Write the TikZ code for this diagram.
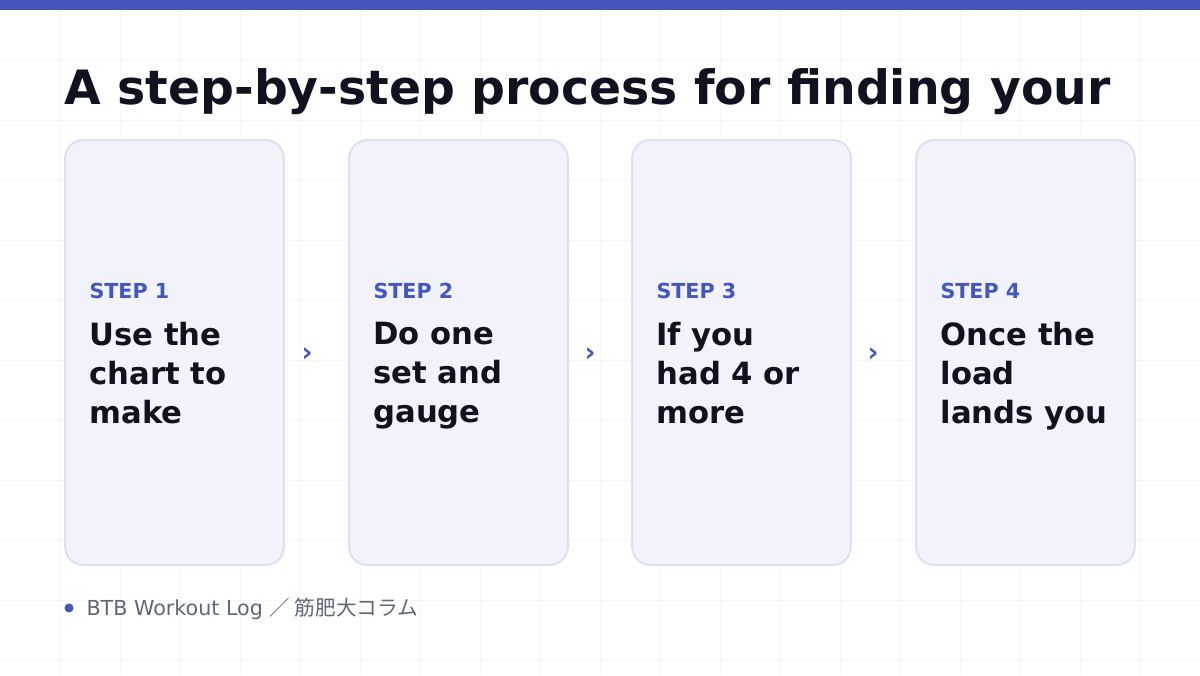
\documentclass[tikz,border=0pt]{standalone}
\usepackage{fontspec}
\setmainfont{DejaVu Sans}
\newfontfamily\cjk{Noto Sans CJK JP}
\definecolor{barblue}{HTML}{4457BE}
\definecolor{cardfill}{HTML}{F1F2FA}
\definecolor{carddraw}{HTML}{DDE1EF}
\definecolor{inkdark}{HTML}{10131F}
\definecolor{footgray}{HTML}{626776}
\definecolor{gridgray}{HTML}{F6F6F9}
\tikzset{every picture/.style={line width=0.75pt}}
\tikzset{
  card/.style={draw=carddraw, fill=cardfill, line width=1.5pt, rounded corners=13.5pt, minimum width=164pt, minimum height=318.75pt, inner sep=0pt},
  steplbl/.style={text=barblue, font=\fontsize{15.5}{20}\selectfont\bfseries, anchor=base west, inner sep=0pt},
  stepbody/.style={text=inkdark, font=\fontsize{23}{29.25}\selectfont\bfseries, anchor=north west, align=left, inner sep=0pt},
  nextmark/.style={text=barblue, font=\fontsize{20}{20}\selectfont\bfseries, inner sep=0pt}
}
\begin{document}
\begin{tikzpicture}[x=0.75pt,y=0.75pt,yscale=-1,xscale=1]
\useasboundingbox (0,0) rectangle (1200,675);
%background grid
\foreach \gx in {60,120,...,1140} \draw[gridgray, line width=0.5pt] (\gx,0) -- (\gx,675);
\foreach \gy in {60,120,...,660} \draw[gridgray, line width=0.5pt] (0,\gy) -- (1200,\gy);
%top bar
\fill[barblue] (0,0) rectangle (1200,10);

% Title
\node[text=inkdark, font=\fontsize{35.5}{44}\selectfont\bfseries, anchor=base west, inner sep=0pt] (title) at (64,104) {A step-by-step process for finding your};

% Cards
\node[card] (c1) at (174.5,352.5) {};
\node[card] (c2) at (458.5,352.5) {};
\node[card] (c3) at (741.5,352.5) {};
\node[card] (c4) at (1025.5,352.5) {};

% Step labels
\node[steplbl] (s1) at (89,298) {STEP 1};
\node[steplbl] (s2) at (373,298) {STEP 2};
\node[steplbl] (s3) at (656,298) {STEP 3};
\node[steplbl] (s4) at (940,298) {STEP 4};

% Step texts
\node[stepbody] (t1) at (89,322) {Use the\\chart to\\make};
\node[stepbody] (t2) at (373,322) {Do one\\set and\\gauge};
\node[stepbody] (t3) at (656,322) {If you\\had 4 or\\more};
\node[stepbody] (t4) at (940,322) {Once the\\load\\lands you};

% Arrows between cards
\node[nextmark] (a1) at (307,355) {›};
\node[nextmark] (a2) at (590,355) {›};
\node[nextmark] (a3) at (873,355) {›};

% Footer
\fill[barblue] (69,608) circle (4.5);
\node[text=footgray, font=\fontsize{15.5}{18}\selectfont, anchor=base west, inner sep=0pt] (foot) at (86,615) {BTB Workout Log {\cjk ／ 筋肥大コラム}};
\end{tikzpicture}
\end{document}
